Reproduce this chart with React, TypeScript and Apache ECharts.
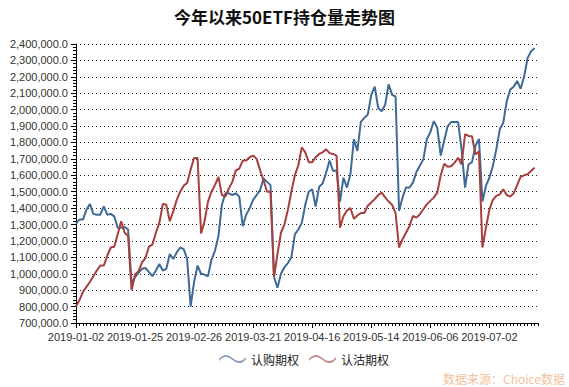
import React, { useEffect, useRef } from "react";
import * as echarts from "echarts";

// Trading days (month -> days), 2019
const monthDays: [string, number[]][] = [
  ["01", [2, 3, 4, 7, 8, 9, 10, 11, 14, 15, 16, 17, 18, 21, 22, 23, 24, 25, 28, 29, 30, 31]],
  ["02", [1, 11, 12, 13, 14, 15, 18, 19, 20, 21, 22, 25, 26, 27, 28]],
  ["03", [1, 4, 5, 6, 7, 8, 11, 12, 13, 14, 15, 18, 19, 20, 21, 22, 25, 26, 27, 28, 29]],
  ["04", [1, 2, 3, 4, 8, 9, 10, 11, 12, 15, 16, 17, 18, 19, 22, 23, 24, 25, 26, 29, 30]],
  ["05", [6, 7, 8, 9, 10, 13, 14, 15, 16, 17, 20, 21, 22, 23, 24, 27, 28, 29, 30, 31]],
  ["06", [3, 4, 5, 6, 10, 11, 12, 13, 14, 17, 18, 19, 20, 21, 24, 25, 26, 27, 28]],
  ["07", [1, 2, 3, 4, 5, 8, 9, 10, 11, 12, 15, 16, 17, 18, 19, 22]],
];

const categories: string[] = [];
monthDays.forEach(([m, ds]) =>
  ds.forEach((d) => categories.push(`2019-${m}-${d < 10 ? "0" + d : d}`))
);

const callOptions = [
  1308000, 1330000, 1330000, 1390000, 1425000, 1365000, 1360000, 1360000, 1410000, 1360000,
  1365000, 1350000, 1280000, 1280000, 1285000, 1270000, 940000, 980000, 1005000, 1030000,
  1035000, 1010000, 985000, 1020000, 1060000, 1020000, 1030000, 1120000, 1090000, 1130000,
  1160000, 1150000, 1090000, 800000, 950000, 1050000, 1000000, 995000, 985000, 1085000,
  1140000, 1230000, 1420000, 1490000, 1490000, 1480000, 1490000, 1470000, 1290000, 1360000,
  1400000, 1450000, 1480000, 1510000, 1580000, 1560000, 1540000, 980000, 915000, 1000000,
  1040000, 1065000, 1100000, 1240000, 1270000, 1310000, 1420000, 1500000, 1515000, 1410000,
  1530000, 1550000, 1616000, 1690000, 1626000, 1630000, 1440000, 1585000, 1525000, 1606000,
  1820000, 1748000, 1925000, 1950000, 1970000, 2090000, 2140000, 2010000, 1990000, 2030000,
  2155000, 2090000, 2080000, 1383000, 1464000, 1525000, 1525000, 1555000, 1620000, 1660000,
  1697000, 1820000, 1863000, 1930000, 1890000, 1720000, 1810000, 1900000, 1924000, 1924000,
  1924000, 1758000, 1525000, 1666000, 1680000, 1780000, 1822000, 1440000, 1535000, 1585000,
  1656000, 1758000, 1880000, 1920000, 2050000, 2122000, 2140000, 2175000, 2127000, 2200000,
  2315000, 2355000, 2375000,
];

const putOptions = [
  800000, 840000, 890000, 920000, 950000, 985000, 1020000, 1050000, 1050000, 1110000,
  1160000, 1165000, 1240000, 1320000, 1250000, 1230000, 900000, 995000, 1015000, 1070000,
  1096000, 1165000, 1178000, 1250000, 1310000, 1425000, 1420000, 1320000, 1380000, 1450000,
  1500000, 1537000, 1553000, 1635000, 1705000, 1705000, 1245000, 1320000, 1440000, 1500000,
  1540000, 1590000, 1480000, 1470000, 1520000, 1560000, 1630000, 1640000, 1690000, 1690000,
  1710000, 1720000, 1700000, 1630000, 1570000, 1500000, 1500000, 980000, 1120000, 1250000,
  1300000, 1390000, 1500000, 1600000, 1660000, 1770000, 1740000, 1680000, 1680000, 1710000,
  1730000, 1740000, 1758000, 1735000, 1730000, 1720000, 1280000, 1350000, 1385000, 1400000,
  1335000, 1355000, 1370000, 1370000, 1415000, 1434000, 1455000, 1480000, 1494000, 1465000,
  1440000, 1420000, 1370000, 1160000, 1210000, 1250000, 1290000, 1352000, 1342000, 1363000,
  1393000, 1423000, 1444000, 1464000, 1494000, 1600000, 1670000, 1652000, 1655000, 1677000,
  1707000, 1666000, 1850000, 1840000, 1838000, 1727000, 1745000, 1160000, 1280000, 1390000,
  1450000, 1475000, 1484000, 1515000, 1480000, 1470000, 1490000, 1540000, 1590000, 1600000,
  1606000, 1626000, 1646000,
];

const seriesNames = ["认购期权", "认沽期权"];
const title = "今年以来50ETF持仓量走势图";
const sourceNote = "数据来源：Choice数据";

const BLUE = "#3f6a96";
const RED = "#a63f3d";

const waveIcon =
  "path://M0,6 C5,0 10,0 16,5 C22,10 27,10 32,4 L32,6.5 C27,12.5 22,12.5 16,7.5 C10,2.5 5,2.5 0,8.5 Z";

export default function App() {
  const ref = useRef<HTMLDivElement>(null);
  useEffect(() => {
    if (!ref.current) return;
    const chart = echarts.init(ref.current, undefined, { renderer: "svg" });
    const font = "'Liberation Sans', Arial, sans-serif";
    chart.setOption({
      animation: false,
      backgroundColor: "#ffffff",
      title: {
        text: title,
        left: "center",
        top: 3,
        textStyle: {
          fontFamily: "'Noto Sans CJK SC', sans-serif",
          fontWeight: "bold",
          fontSize: 17,
          color: "#111",
        },
      },
      legend: {
        data: seriesNames.map((n, i) => ({
          name: n,
          icon: waveIcon,
          itemStyle: { color: i === 0 ? "#8fa3b8" : "#c08f8e" },
        })),
        left: 214,
        top: 348,
        itemWidth: 27,
        itemHeight: 10,
        itemGap: 10,
        textStyle: {
          fontFamily: "'Noto Sans CJK SC', sans-serif",
          fontSize: 12,
          color: "#222",
        },
      },
      grid: { left: 76, top: 44, right: 31, bottom: 64, containLabel: false },
      xAxis: [
        {
          type: "category",
          data: categories,
          boundaryGap: false,
          axisLine: { lineStyle: { color: "#000", width: 1 } },
          axisTick: { interval: 16, length: 5, lineStyle: { color: "#000" } },
          axisLabel: {
            interval: 16,
            fontFamily: font,
            fontSize: 11,
            color: "#333",
            margin: 8,
          },
          splitLine: { show: false },
        },
        {
          type: "category",
          data: categories,
          boundaryGap: false,
          position: "bottom",
          axisLine: { show: false },
          axisTick: { interval: 0, length: 3, lineStyle: { color: "#000" } },
          axisLabel: { show: false },
          splitLine: { show: false },
        },
      ],
      yAxis: {
        type: "value",
        min: 700000,
        max: 2400000,
        interval: 100000,
        axisLine: { show: true, lineStyle: { color: "#000", width: 1 } },
        axisTick: { show: true, length: 5, lineStyle: { color: "#000" } },
        minorTick: { show: true, splitNumber: 5, length: 3, lineStyle: { color: "#000" } },
        axisLabel: {
          fontFamily: font,
          fontSize: 11,
          color: "#333",
          margin: 8,
          formatter: (v: number) =>
            v.toLocaleString("en-US", { minimumFractionDigits: 1, maximumFractionDigits: 1 }),
        },
        splitLine: { show: true, lineStyle: { color: "#222", type: [1, 3], width: 1 } },
      },
      series: [
        {
          name: seriesNames[0],
          type: "line",
          data: callOptions,
          showSymbol: false,
          symbol: "none",
          lineStyle: { color: BLUE, width: 2 },
          itemStyle: { color: BLUE },
        },
        {
          name: seriesNames[1],
          type: "line",
          data: putOptions,
          showSymbol: false,
          symbol: "none",
          lineStyle: { color: RED, width: 2 },
          itemStyle: { color: RED },
        },
      ],
      graphic: [
        {
          type: "text",
          right: 4,
          top: 372,
          style: {
            text: sourceNote,
            fontFamily: "'Noto Sans CJK SC', sans-serif",
            fontSize: 12,
            fill: "#f0c39e",
          },
        },
      ],
    });
    return () => chart.dispose();
  }, []);
  return <div ref={ref} style={{ width: 569, height: 387, position: "absolute", left: 0, top: 0 }} />;
}
